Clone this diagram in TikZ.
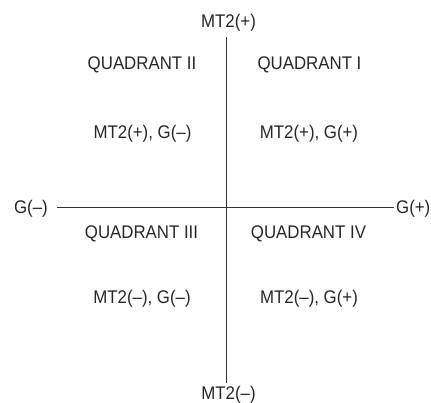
\documentclass[tikz,border=0pt]{standalone}
\usepackage{fontspec}
\setmainfont[FakeStretch=0.92]{Liberation Sans}
\begin{document}
\begin{tikzpicture}[x=1pt,y=-1pt,
  lbl/.style={anchor=base,inner sep=0pt,text=black!85,font=\fontsize{18.3}{21}\selectfont},
  axis/.style={draw=black!80,line width=0.9pt}]
\useasboundingbox (0,0) rectangle (431,402);
% axis labels
\node[lbl] (mtp) at (228.5,27) {MT2(+)};
\node[lbl] (mtm) at (228.5,399) {MT2(–)};
\node[lbl,anchor=base east] (gm) at (48,213) {G(–)};
\node[lbl,anchor=base west] (gp) at (396,213) {G(+)};
% axis end points
\coordinate (vtop) at (226,37);
\coordinate (vbot) at (226,383);
\coordinate (hleft) at (57,207.5);
\coordinate (hright) at (394,207.5);
\draw[axis] (vtop) -- (vbot);
\draw[axis] (hleft) -- (hright);
% quadrant titles
\node[lbl] (q2) at (142,69) {QUADRANT II};
\node[lbl] (q1) at (309.5,69) {QUADRANT I};
\node[lbl] (q3) at (141.5,238) {QUADRANT III};
\node[lbl] (q4) at (308.5,238) {QUADRANT IV};
% quadrant signs
\node[lbl] (s2) at (142.5,138) {MT2(+), G(–)};
\node[lbl] (s1) at (309,138) {MT2(+), G(+)};
\node[lbl] (s3) at (142,303) {MT2(–), G(–)};
\node[lbl] (s4) at (309,303) {MT2(–), G(+)};
\end{tikzpicture}
\end{document}
